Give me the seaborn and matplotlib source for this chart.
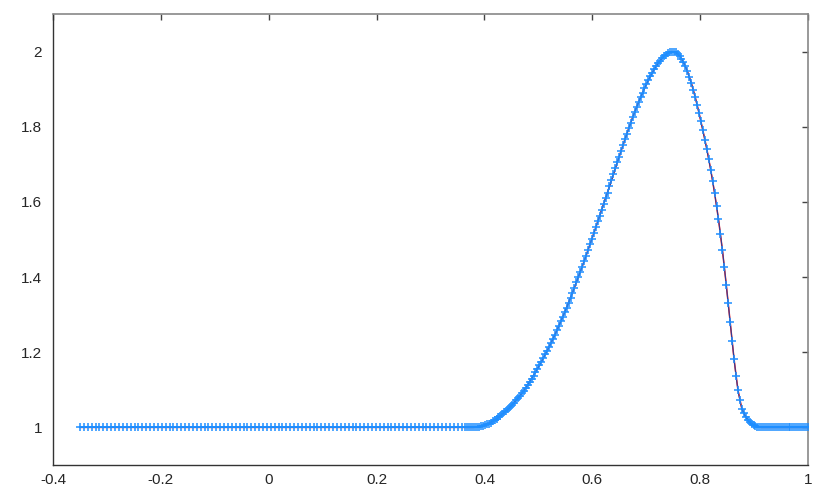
import numpy as np
import pandas as pd
import matplotlib
matplotlib.use("Agg")
import matplotlib.pyplot as plt
import seaborn as sns
from matplotlib.ticker import FormatStrFormatter, MultipleLocator

# coarse cells: x from -0.35 to 0.3647 (100 points), solution is flat
u_coarse = [
    1.0, 1.0, 1.0, 1.0, 1.0, 1.0, 1.0, 1.0, 1.0, 1.0,
    1.0, 1.0, 1.0, 1.0, 1.0, 1.0, 1.0, 1.0, 1.0, 1.0,
    1.0, 1.0, 1.0, 1.0, 1.0, 1.0, 1.0, 1.0, 1.0, 1.0,
    1.0, 1.0, 1.0, 1.0, 1.0, 1.0, 1.0, 1.0, 1.0, 1.0,
    1.0, 1.0, 1.0, 1.0, 1.0, 1.0, 1.0, 1.0, 1.0, 1.0,
    1.0, 1.0, 1.0, 1.0, 1.0, 1.0, 1.0, 1.0, 1.0, 1.0,
    1.0, 1.0, 1.0, 1.0, 1.0, 1.0, 1.0, 1.0, 1.0, 1.0,
    1.0, 1.0, 1.0, 1.0, 1.0, 1.0, 1.0, 1.0, 1.0, 1.0,
    1.0, 1.0, 1.0, 1.0, 1.0, 1.0, 1.0, 1.0, 1.0, 1.0,
    1.0, 1.0, 1.0, 1.0, 1.0, 1.0, 1.0, 1.0, 1.0, 1.0,
]

# refined cells: x from 0.3683 to 1.0 (176 points), the pulse
u_fine = [
    1.000, 1.000, 1.000, 1.000, 1.000, 1.001, 1.002, 1.003, 1.004, 1.006,
    1.008, 1.010, 1.013, 1.016, 1.019, 1.023, 1.027, 1.031, 1.035, 1.040,
    1.044, 1.049, 1.054, 1.060, 1.066, 1.072, 1.078, 1.084, 1.091, 1.098,
    1.105, 1.113, 1.121, 1.130, 1.138, 1.147, 1.156, 1.165, 1.174, 1.184,
    1.194, 1.204, 1.214, 1.225, 1.236, 1.247, 1.258, 1.270, 1.282, 1.294,
    1.306, 1.319, 1.332, 1.345, 1.358, 1.372, 1.386, 1.400, 1.414, 1.428,
    1.442, 1.457, 1.472, 1.487, 1.502, 1.517, 1.532, 1.548, 1.563, 1.579,
    1.594, 1.610, 1.625, 1.641, 1.657, 1.673, 1.689, 1.705, 1.720, 1.736,
    1.751, 1.767, 1.782, 1.797, 1.811, 1.826, 1.840, 1.853, 1.866, 1.878,
    1.890, 1.902, 1.913, 1.924, 1.934, 1.944, 1.953, 1.961, 1.969, 1.976,
    1.982, 1.988, 1.992, 1.996, 1.999, 2.000, 2.000, 1.998, 1.994, 1.989,
    1.981, 1.972, 1.961, 1.948, 1.933, 1.917, 1.899, 1.880, 1.859, 1.837,
    1.814, 1.790, 1.766, 1.741, 1.714, 1.686, 1.656, 1.624, 1.590, 1.554,
    1.515, 1.473, 1.428, 1.380, 1.330, 1.280, 1.230, 1.182, 1.138, 1.100,
    1.072, 1.050, 1.038, 1.028, 1.021, 1.014, 1.010, 1.006, 1.004, 1.002,
    1.001, 1.000, 1.000, 1.000, 1.000, 1.000, 1.000, 1.000, 1.000, 1.000,
    1.000, 1.000, 1.000, 1.000, 1.000, 1.000, 1.000, 1.000, 1.000, 1.000,
    1.000, 1.000, 1.000, 1.000, 1.000, 1.000,
]

x_coarse = np.linspace(-0.35, 0.3647, len(u_coarse))
x_fine = np.linspace(0.3683, 1.0, len(u_fine))

df = pd.DataFrame({"x": np.concatenate([x_coarse, x_fine]),
                   "u": u_coarse + u_fine})
# coarse-level view of the refined region (every other refined point)
df_level0 = pd.DataFrame({"x": np.concatenate([x_coarse, x_fine[1::2]]),
                          "u": u_coarse + u_fine[1::2]})

sns.set_style("white")
plt.rcParams["font.family"] = ["Liberation Sans", "DejaVu Sans"]

fig = plt.figure(figsize=(8.3, 4.98), dpi=100)
ax = fig.add_axes([0.0639, 0.0663, 0.9096, 0.9056])

sns.lineplot(data=df_level0, x="x", y="u", color="#ff2020", linewidth=1.1,
             sort=False, ax=ax)
sns.lineplot(data=df, x="x", y="u", color="#28409a", linewidth=0.8,
             sort=False, ax=ax)
sns.scatterplot(data=df, x="x", y="u", marker="+", s=32, linewidth=1.1,
                color="#1E8EFF", ax=ax, zorder=3)

ax.set_xlim(-0.4, 1.0)
ax.set_ylim(0.9, 2.1)
ax.xaxis.set_major_locator(MultipleLocator(0.2))
ax.xaxis.set_major_formatter(FormatStrFormatter("%g"))
ax.yaxis.set_major_formatter(FormatStrFormatter("%g"))
ax.set_yticks([1.0, 1.2, 1.4, 1.6, 1.8, 2.0])
ax.set_xlabel("")
ax.set_ylabel("")

ax.tick_params(direction="in", length=4, width=1, color="#444444",
               top=True, right=True, labelsize=11)
ax.tick_params(axis="x", pad=6)
ax.tick_params(axis="y", pad=8)
for side in ["left", "bottom"]:
    ax.spines[side].set_color("#333333")
    ax.spines[side].set_linewidth(1)
for side in ["top", "right"]:
    ax.spines[side].set_color("#888888")
    ax.spines[side].set_linewidth(1.2)

fig.savefig("out.png", dpi=100)
